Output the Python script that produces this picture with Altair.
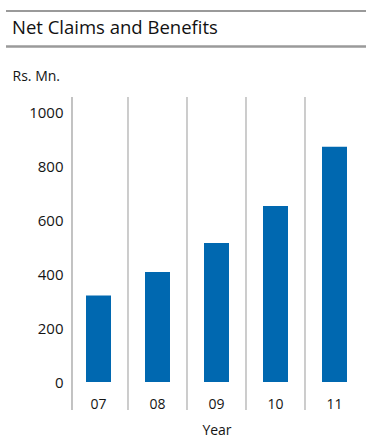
import altair as alt
import pandas as pd

# Net claims and benefits by financial year (Rs. Mn.)
YEARS = ["07", "08", "09", "10", "11"]
VALUES = [320, 407, 515, 652, 871]
Y_TICKS = [0, 200, 400, 600, 800, 1000]
TITLE = "Net Claims and Benefits"
UNIT = "Rs. Mn."
X_TITLE = "Year"

FONT = "Open Sans"
TEXT_COLOR = "#141414"
BAR_COLOR = "#0068b0"
GRID_COLOR = "#ababab"
RULE_COLOR = "#9a9a9a"

W, H = 289, 270

data = pd.DataFrame({"year": YEARS, "value": VALUES})
separators = pd.DataFrame({"year": YEARS[1:]})

x_scale = alt.Scale(domain=YEARS, paddingInner=0.5763, paddingOuter=0.2373)
y_scale = alt.Scale(domain=[0, 1000], nice=False)

x_axis = alt.Axis(
    title=X_TITLE,
    domain=False,
    ticks=False,
    tickSize=0,
    grid=False,
    labelAngle=0,
    labelPadding=15,
    labelFontSize=14,
    labelFont=FONT,
    labelColor=TEXT_COLOR,
    titleFont=FONT,
    titleFontSize=14,
    titleFontWeight="normal",
    titleColor=TEXT_COLOR,
    titleBaseline="alphabetic",
    titleY=52,
)

bars = alt.Chart(data).mark_bar(color=BAR_COLOR).encode(
    x=alt.X("year:N", scale=x_scale, sort=YEARS, axis=x_axis),
    y=alt.Y(
        "value:Q",
        scale=y_scale,
        axis=alt.Axis(
            values=Y_TICKS,
            format="d",
            title=UNIT,
            domain=False,
            ticks=False,
            tickSize=0,
            grid=False,
            labelPadding=9,
            labelFontSize=15,
            labelFont=FONT,
            labelColor=TEXT_COLOR,
            titleFont=FONT,
            titleFontSize=14,
            titleFontWeight="normal",
            titleColor=TEXT_COLOR,
            titleAngle=0,
            titleAlign="left",
            titleBaseline="alphabetic",
            titleX=-60,
            titleY=-32,
        ),
    ),
)

# vertical separators between the year columns
sep_rules = alt.Chart(separators).mark_rule(
    color=GRID_COLOR, strokeWidth=1.2, xOffset=-17
).encode(
    x=alt.X("year:N", scale=x_scale, sort=YEARS, bandPosition=0, axis=x_axis),
    y=alt.value(-15),
    y2=alt.value(298),
)

# left axis line
axis_line = alt.Chart(pd.DataFrame({"k": [0]})).mark_rule(
    color=RULE_COLOR, strokeWidth=1.2
).encode(
    x=alt.value(0),
    y=alt.value(-15),
    y2=alt.value(298),
)

# heading with rules above and below
heading_df = pd.DataFrame({"label": [TITLE]})
heading = alt.Chart(heading_df).mark_text(
    align="left", baseline="alphabetic", font=FONT, fontSize=18.5, color="#111111"
).encode(
    x=alt.value(-60),
    y=alt.value(-77.7),
    text="label:N",
)

top_rule = alt.Chart(pd.DataFrame({"k": [0]})).mark_rule(
    color=RULE_COLOR, strokeWidth=2
).encode(x=alt.value(-66), x2=alt.value(294), y=alt.value(-101))

bottom_rule = alt.Chart(pd.DataFrame({"k": [0]})).mark_rule(
    color=RULE_COLOR, strokeWidth=2.5
).encode(x=alt.value(-66), x2=alt.value(294), y=alt.value(-65.5))

chart = (
    alt.layer(sep_rules, axis_line, bars, heading, top_rule, bottom_rule)
    .properties(
        width=W,
        height=H,
        autosize=alt.AutoSizeParams(type="none"),
        padding={"left": 72, "top": 112, "right": 5, "bottom": 57},
        background="white",
    )
    .configure_view(stroke=None)
)

chart.save("out.html", embed_options={"renderer": "svg", "actions": False})
